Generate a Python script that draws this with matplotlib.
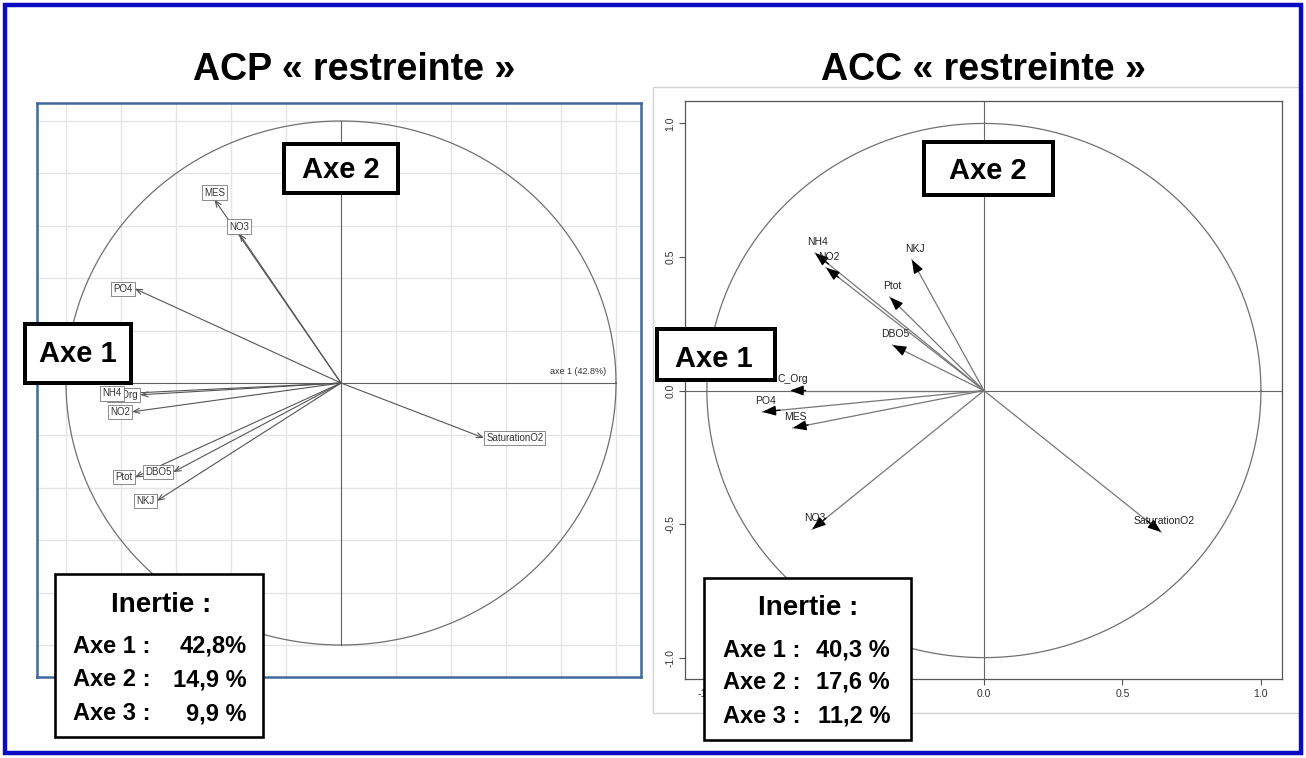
import matplotlib
matplotlib.use("Agg")
import matplotlib.pyplot as plt
from matplotlib.patches import Rectangle
import numpy as np

# ---------------- data ----------------
acp_vars = ["MES", "NO3", "PO4", "C_Org", "NH4", "NO2", "DBO5", "Ptot", "NKJ", "SaturationO2"]
acp_x = [-0.46, -0.37, -0.75, -0.73, -0.79, -0.76, -0.61, -0.75, -0.67, 0.52]
acp_y = [0.70, 0.57, 0.36, -0.045, -0.04, -0.11, -0.34, -0.36, -0.45, -0.21]

acc_vars = ["NH4", "NO2", "NKJ", "Ptot", "DBO5", "C_Org", "PO4", "MES", "NO3", "SaturationO2"]
acc_x = [-0.61, -0.57, -0.26, -0.34, -0.33, -0.70, -0.80, -0.69, -0.62, 0.64]
acc_y = [0.515, 0.46, 0.49, 0.35, 0.17, 0.0, -0.08, -0.14, -0.52, -0.53]

axis_ticks = [-1.0, -0.5, 0.0, 0.5, 1.0]
grid_steps = [-1.0, -0.8, -0.6, -0.4, -0.2, 0.2, 0.4, 0.6, 0.8, 1.0]

inertie_rows = ["Axe 1 :", "Axe 2 :", "Axe 3 :"]
acp_inertie = ["42,8%", "14,9 %", "9,9 %"]
acc_inertie = ["40,3 %", "17,6 %", "11,2 %"]

acp_title = "ACP « restreinte »"
acc_title = "ACC « restreinte »"
acp_axis_label = "axe 1 (42.8%)"

# ---------------- figure ----------------
W, H = 1306, 758
fig = plt.figure(figsize=(W / 100, H / 100), dpi=100)
fig.patch.set_facecolor("white")
FONT = ["Liberation Sans", "DejaVu Sans"]


def fx(px):
    return px / W


def fy(py):
    return 1 - py / H


def fig_rect(x0, y0, x1, y1, lw_px, ec="black", fc="white", z=8):
    inset = lw_px / 2
    r = Rectangle((fx(x0 + inset), fy(y1 - inset)), (x1 - x0 - lw_px) / W,
                  (y1 - y0 - lw_px) / H, transform=fig.transFigure,
                  fc=fc, ec=ec, lw=lw_px * 0.72, zorder=z, fill=fc is not None)
    fig.patches.append(r)


t = np.linspace(0, 2 * np.pi, 400)

# ---------------- left panel: ACP ----------------
cx, cy, sx, sy = 341, 383, 275, 262
L0, R0, T0, B0 = 37, 641, 103, 677
ax1 = fig.add_axes([fx(L0), fy(B0), (R0 - L0) / W, (B0 - T0) / H])
ax1.set_xlim((L0 - cx) / sx, (R0 - cx) / sx)
ax1.set_ylim((cy - B0) / sy, (cy - T0) / sy)
ax1.set_xticks(grid_steps)
ax1.set_yticks(grid_steps)
ax1.grid(True, color="#e4e4e4", lw=1.0)
ax1.tick_params(length=0, labelbottom=False, labelleft=False)
for s in ax1.spines.values():
    s.set_color("#41689f")
    s.set_linewidth(1.8)
ax1.plot(np.cos(t), np.sin(t), color="#707070", lw=0.9)
ax1.plot([-1, 1], [0, 0], color="#606060", lw=0.8)
ax1.plot([0, 0], [-1, 1], color="#606060", lw=0.8)

for name, x, y in zip(acp_vars, acp_x, acp_y):
    ax1.annotate("", xy=(x, y), xytext=(0, 0),
                 arrowprops=dict(arrowstyle="->,head_length=0.45,head_width=0.18",
                                 color="#555555", lw=0.8, shrinkA=0, shrinkB=0))
for name, x, y in zip(acp_vars, acp_x, acp_y):
    if abs(x) >= abs(y):
        ha, va = ("left" if x > 0 else "right"), "center"
        off = (1.5 if x > 0 else -1.5, 0)
    else:
        ha, va = "center", ("bottom" if y > 0 else "top")
        off = (0, 1.5 if y > 0 else -1.5)
    ax1.annotate(name, xy=(x, y), xytext=off, textcoords="offset points",
                 ha=ha, va=va, fontsize=7, color="#333333", family=FONT,
                 bbox=dict(boxstyle="square,pad=0.22", fc="white", ec="#777777", lw=0.6))
ax1.text((606 - cx) / sx, (cy - 372) / sy, acp_axis_label, ha="right", va="center",
         fontsize=6.5, color="#333333", family=FONT)

# ---------------- right panel: ACC ----------------
fig.patches.append(Rectangle((fx(653), fy(713)), (1300 - 653) / W, (713 - 87) / H,
                             transform=fig.transFigure, fill=False, ec="#d4d4d4",
                             lw=1.0, zorder=0.5))
ax2 = fig.add_axes([fx(685), fy(679), (1282 - 685) / W, (679 - 101) / H])
ax2.set_xlim(-1.079, 1.076)
ax2.set_ylim(-1.08, 1.084)
ax2.set_xticks(axis_ticks)
ax2.set_yticks(axis_ticks)
ax2.set_xticklabels([f"{v:.1f}" for v in axis_ticks], family=FONT)
ax2.set_yticklabels([f"{v:.1f}" for v in axis_ticks], family=FONT,
                    rotation=90, va="center")
ax2.tick_params(direction="out", length=4, width=0.8, color="#555555",
                labelcolor="#333333", labelsize=7.5, pad=3)
for s in ax2.spines.values():
    s.set_color("#555555")
    s.set_linewidth(0.9)
ax2.axhline(0, color="#666666", lw=0.8)
ax2.axvline(0, color="#666666", lw=0.8)
ax2.plot(np.cos(t), np.sin(t), color="#707070", lw=0.9)

for name, x, y in zip(acc_vars, acc_x, acc_y):
    ax2.plot([0, x], [0, y], color="#777777", lw=0.9)
    ax2.annotate("", xy=(x, y), xytext=(0.92 * x, 0.92 * y),
                 arrowprops=dict(arrowstyle="-|>,head_length=0.8,head_width=0.3",
                                 color="black", lw=1.0, shrinkA=0, shrinkB=0))
    ax2.annotate(name, xy=(x, y), xytext=(2, 8), textcoords="offset points",
                 ha="center", va="center", fontsize=7.5, color="#222222", family=FONT)

# ---------------- titles ----------------
fig.text(fx(354), fy(80), acp_title, ha="center", va="baseline", fontsize=27,
         fontweight="bold", family=FONT, zorder=9)
fig.text(fx(983), fy(80), acc_title, ha="center", va="baseline", fontsize=27,
         fontweight="bold", family=FONT, zorder=9)

# ---------------- "Axe" boxes ----------------
axe_boxes = [((23, 322, 133, 385), (78, 362), "Axe 1"),
             ((282, 142, 400, 195), (341, 178), "Axe 2"),
             ((655, 327, 777, 382), (714, 367), "Axe 1"),
             ((922, 140, 1055, 197), (988, 179), "Axe 2")]
for (x0, y0, x1, y1), (tx, ty), lab in axe_boxes:
    fig_rect(x0, y0, x1, y1, 4.0)
    fig.text(fx(tx), fy(ty), lab, ha="center", va="baseline", fontsize=21,
             fontweight="bold", family=FONT, zorder=9)

# ---------------- Inertie boxes ----------------
inertie_boxes = [((54, 573, 264, 738), (161, 612), [653, 686, 720], 73, 247, acp_inertie),
                 ((703, 577, 912, 741), (808, 615), [657, 689, 723], 723, 890, acc_inertie)]
for (x0, y0, x1, y1), (tx, ty), rows_y, lx, rx, vals in inertie_boxes:
    fig_rect(x0, y0, x1, y1, 2.6)
    fig.text(fx(tx), fy(ty), "Inertie :", ha="center", va="baseline", fontsize=20,
             fontweight="bold", family=FONT, zorder=9)
    for ry, rl, v in zip(rows_y, inertie_rows, vals):
        fig.text(fx(lx), fy(ry), rl, ha="left", va="baseline", fontsize=17,
                 fontweight="bold", family=FONT, zorder=9)
        fig.text(fx(rx), fy(ry), v, ha="right", va="baseline", fontsize=17,
                 fontweight="bold", family=FONT, zorder=9)

# ---------------- outer border ----------------
fig.patches.append(Rectangle((fx(5), fy(753)), (1301 - 5) / W, (753 - 5) / H,
                             transform=fig.transFigure, fill=False, ec="#0b0bc4",
                             lw=3.2, zorder=10))

fig.savefig("out.png", dpi=100, facecolor="white")
